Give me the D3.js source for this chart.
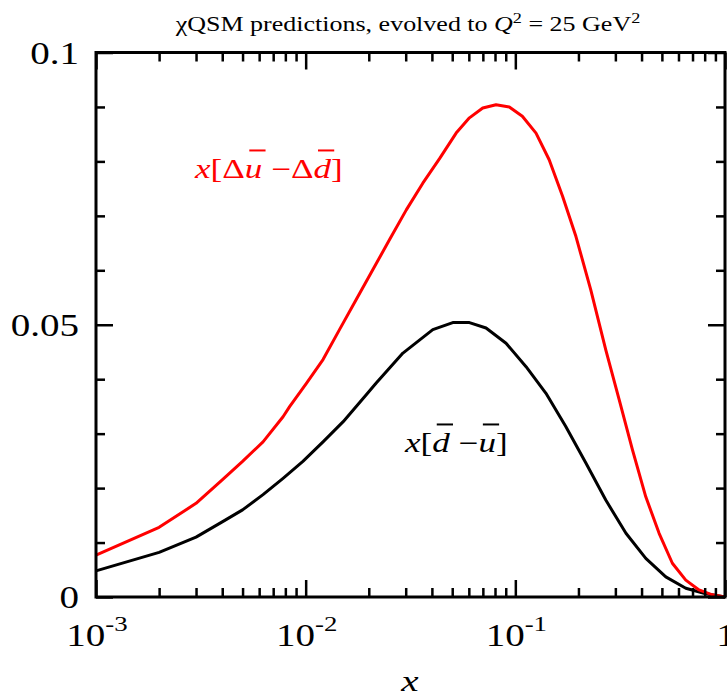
<!DOCTYPE html>
<html>
<head>
<meta charset="utf-8">
<script src="https://cdn.jsdelivr.net/npm/d3@7"></script>
<style>
  html, body { margin: 0; padding: 0; background: #fff; }
  svg { display: block; }
  text { font-family: "Liberation Serif", "DejaVu Serif", serif; }
</style>
</head>
<body>
<script>
// x[Δū − Δd̄] (polarized flavour asymmetry)
const xPolarized = [0.001, 0.002, 0.003, 0.004, 0.005, 0.00626, 0.0078, 0.0084, 0.0101, 0.0121, 0.0145,
  0.0174, 0.0209, 0.0251, 0.0302, 0.0362, 0.0435, 0.0522, 0.0604, 0.0699, 0.0809, 0.0936, 0.108,
  0.1255, 0.145, 0.168, 0.1946, 0.229, 0.270, 0.313, 0.362, 0.419, 0.485, 0.561, 0.650, 0.752, 0.87, 1.0];
const polarizedAsym = [0.0077, 0.0128, 0.0172, 0.0215, 0.0249, 0.0285, 0.0331, 0.0350, 0.0393, 0.0436, 0.0491,
  0.0546, 0.0601, 0.0656, 0.0711, 0.0760, 0.0805, 0.0852, 0.0880, 0.0898, 0.0904, 0.0900, 0.0883,
  0.0852, 0.0803, 0.0736, 0.0662, 0.0564, 0.0454, 0.0362, 0.0270, 0.0184, 0.0117, 0.0062, 0.0031, 0.0013, 0.0004, 0.0];

// x[d̄ − ū] (unpolarized flavour asymmetry)
const xUnpolarized = [0.001, 0.002, 0.003, 0.004, 0.005, 0.00626, 0.0078, 0.0097, 0.0121, 0.0151,
  0.0195, 0.0217, 0.0291, 0.0404, 0.0503, 0.0604, 0.0725, 0.0903, 0.1125, 0.140, 0.174, 0.217, 0.270,
  0.337, 0.419, 0.522, 0.650, 0.81, 1.0];
const unpolarizedAsym = [0.0048, 0.0082, 0.0110, 0.0138, 0.0160, 0.0188, 0.0218, 0.0249, 0.0285, 0.0322,
  0.0372, 0.0393, 0.0448, 0.0491, 0.0504, 0.0504, 0.0494, 0.0466, 0.0423, 0.0374, 0.0313, 0.0246, 0.0178,
  0.0117, 0.0071, 0.0037, 0.0016, 0.0006, 0.0];

// Axis ticks and labels
const xMajorTicks = [1e-3, 1e-2, 1e-1, 1];
const xTickBase = ["10", "10", "10", "1"];
const xTickExp = ["-3", "-2", "-1", ""];
const yMajorTicks = [0, 0.05, 0.1];
const yTickLabels = ["0", "0.05", "0.1"];
const yMinorTicks = [0.01, 0.02, 0.03, 0.04, 0.06, 0.07, 0.08, 0.09];

const W = 727, H = 695;
const frame = { left: 96, right: 725, top: 52.5, bottom: 597 };
const SX = 1.3;      // horizontal text stretch for title and curve labels
const SX_TICK = 1.22; // horizontal text stretch for tick labels

const x = d3.scaleLog().domain([1e-3, 1]).range([frame.left, frame.right]);
const y = d3.scaleLinear().domain([0, 0.1]).range([frame.bottom, frame.top]);

const xMinorTicks = [];
[1e-3, 1e-2, 1e-1].forEach(d => { for (let k = 2; k <= 9; k++) xMinorTicks.push(k * d); });

const svg = d3.select("body").append("svg").attr("width", W).attr("height", H);

// curves
const line = d3.line().x(d => x(d[0])).y(d => y(d[1]));
svg.append("path")
  .datum(d3.zip(xUnpolarized, unpolarizedAsym))
  .attr("d", line).attr("fill", "none").attr("stroke", "#000").attr("stroke-width", 3)
  .attr("stroke-linejoin", "round");
svg.append("path")
  .datum(d3.zip(xPolarized, polarizedAsym))
  .attr("d", line).attr("fill", "none").attr("stroke", "#ff0000").attr("stroke-width", 3)
  .attr("stroke-linejoin", "round");

// ticks (pointing inward on all four sides)
function ticks(axis, tx, ty) {
  const g = svg.append("g").attr("transform", `translate(${tx},${ty})`).call(axis);
  g.select(".domain").remove();
  g.selectAll(".tick text").remove();
  g.selectAll(".tick line").attr("stroke", "#000").attr("stroke-width", 2.5);
}
ticks(d3.axisBottom(x).tickValues(xMajorTicks).tickSize(-17), 0, frame.bottom);
ticks(d3.axisBottom(x).tickValues(xMinorTicks).tickSize(-9), 0, frame.bottom);
ticks(d3.axisTop(x).tickValues(xMajorTicks).tickSize(-17), 0, frame.top);
ticks(d3.axisTop(x).tickValues(xMinorTicks).tickSize(-9), 0, frame.top);
ticks(d3.axisLeft(y).tickValues(yMajorTicks).tickSize(-17), frame.left, 0);
ticks(d3.axisLeft(y).tickValues(yMinorTicks).tickSize(-9), frame.left, 0);
ticks(d3.axisRight(y).tickValues(yMajorTicks).tickSize(-17), frame.right, 0);
ticks(d3.axisRight(y).tickValues(yMinorTicks).tickSize(-9), frame.right, 0);

// frame
svg.append("rect")
  .attr("x", frame.left).attr("y", frame.top)
  .attr("width", frame.right - frame.left).attr("height", frame.bottom - frame.top)
  .attr("fill", "none").attr("stroke", "#000").attr("stroke-width", 3);

// stretched text group helper
function textGroup(px, py, sx = SX) {
  return svg.append("g").attr("transform", `translate(${px},${py}) scale(${sx},1)`);
}

// y tick labels
yMajorTicks.forEach((v, i) => {
  textGroup(79, y(v) + 11, SX_TICK).append("text")
    .attr("text-anchor", "end").attr("font-size", 32).text(yTickLabels[i]);
});

// x tick labels
xMajorTicks.forEach((v, i) => {
  const t = textGroup(x(v) + 1, 646, SX_TICK).append("text")
    .attr("text-anchor", "middle").attr("font-size", 32);
  t.append("tspan").text(xTickBase[i]);
  if (xTickExp[i]) t.append("tspan").attr("dy", -15).attr("font-size", 22).text(xTickExp[i]);
});

// axis title
textGroup(410, 691).append("text")
  .attr("text-anchor", "middle").attr("font-size", 30).attr("font-style", "italic").text("x");

// plot title
{
  const t = textGroup(408, 31).append("text").attr("text-anchor", "middle").attr("font-size", 20);
  t.append("tspan").text("χQSM predictions, evolved to ");
  t.append("tspan").attr("font-style", "italic").text("Q");
  t.append("tspan").attr("dy", -8).attr("font-size", 14).text("2");
  t.append("tspan").attr("dy", 8).text(" = 25 GeV");
  t.append("tspan").attr("dy", -8).attr("font-size", 14).text("2");
}

// curve labels with overbars
function mathLabel(px, py, parts, color, size) {
  const g = textGroup(px, py);
  const t = g.append("text").attr("font-size", size).attr("fill", color);
  parts.forEach(p => {
    const s = t.append("tspan").text(p.t);
    if (p.it) s.attr("font-style", "italic");
  });
  let idx = 0;
  const node = t.node();
  parts.forEach(p => {
    if (p.bar) {
      const e = node.getExtentOfChar(idx);
      const sh = size * 0.09;
      g.append("line")
        .attr("x1", e.x + sh + 1).attr("x2", e.x + e.width + sh)
        .attr("y1", -size * 1.02).attr("y2", -size * 1.02)
        .attr("stroke", color).attr("stroke-width", 2);
    }
    idx += p.t.length;
  });
}
mathLabel(195, 178, [
  { t: "x", it: true }, { t: "[Δ" }, { t: "u", it: true, bar: true },
  { t: " −Δ" }, { t: "d", it: true, bar: true }, { t: "]" }
], "#ff0000", 27);
mathLabel(405, 452, [
  { t: "x", it: true }, { t: "[" }, { t: "d", it: true, bar: true },
  { t: " −" }, { t: "u", it: true, bar: true }, { t: "]" }
], "#000", 27);
</script>
</body>
</html>
